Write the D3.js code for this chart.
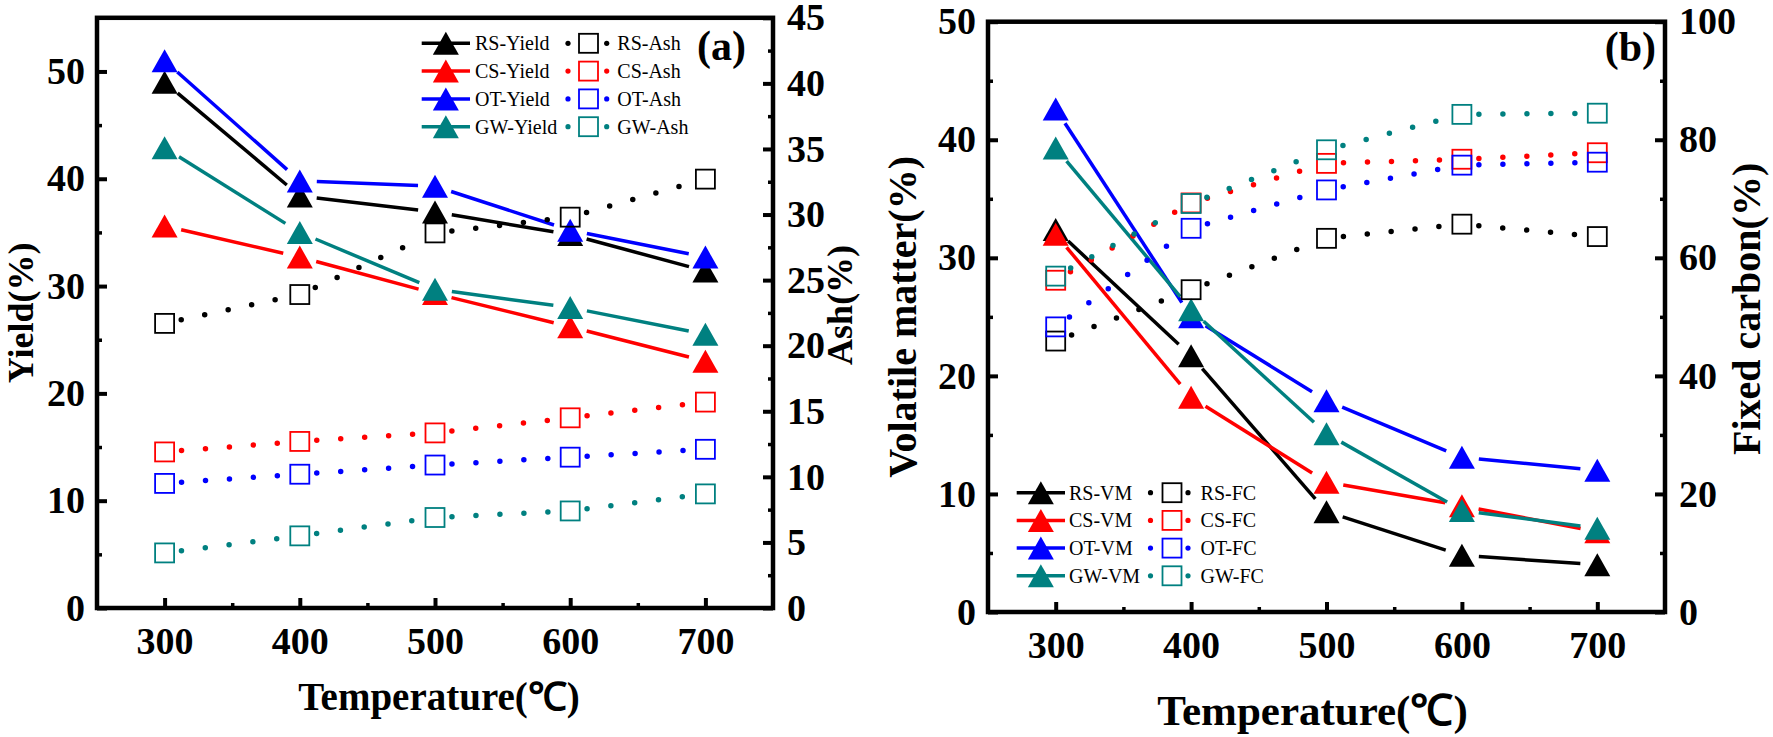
<!DOCTYPE html>
<html><head><meta charset="utf-8">
<script src="https://cdn.jsdelivr.net/npm/d3@7"></script>
<style>body{margin:0;background:#fff}svg{display:block}</style>
</head><body><svg id="c" width="1773" height="737"></svg>
<script>
// ---------- data ----------
const temps = [300, 400, 500, 600, 700];
const xTicks = [300, 400, 500, 600, 700];
const xMinor = [350, 450, 550, 650];
const seriesNames = ["RS", "CS", "OT", "GW"];

// panel (a)
const yieldRS = [49.0, 38.4, 36.9, 34.8, 31.4];
const yieldCS = [35.6, 32.7, 29.3, 26.2, 23.0];
const yieldOT = [51.0, 39.8, 39.3, 35.2, 32.7];
const yieldGW = [42.9, 35.0, 29.7, 28.0, 25.5];
const ashRS = [21.7, 23.9, 28.6, 29.8, 32.7];
const ashCS = [11.9, 12.7, 13.35, 14.5, 15.7];
const ashOT = [9.5, 10.2, 10.9, 11.5, 12.1];
const ashGW = [4.2, 5.5, 6.9, 7.4, 8.7];
const yieldTicks = [0, 10, 20, 30, 40, 50];
const yieldMinor = [5, 15, 25, 35, 45];
const ashTicks = [0, 5, 10, 15, 20, 25, 30, 35, 40, 45];
const ashMinor = [2.5, 7.5, 12.5, 17.5, 22.5, 27.5, 32.5, 37.5, 42.5];

// panel (b)
const vmRS = [32.4, 21.7, 8.5, 4.8, 4.0];
const vmCS = [32.0, 18.2, 11.0, 9.0, 6.8];
const vmOT = [42.6, 25.0, 17.9, 13.1, 12.0];
const vmGW = [39.3, 25.6, 15.1, 8.6, 7.1];
const fcRS = [45.9, 54.6, 63.3, 65.7, 63.6];
const fcCS = [56.2, 69.3, 76.0, 76.7, 77.8];
const fcOT = [48.3, 65.0, 71.5, 75.7, 76.2];
const fcGW = [56.9, 69.2, 78.3, 84.3, 84.5];
const vmTicks = [0, 10, 20, 30, 40, 50];
const vmMinor = [5, 15, 25, 35, 45];
const fcTicks = [0, 20, 40, 60, 80, 100];
const fcMinor = [10, 30, 50, 70, 90];

// ---------- styles ----------
const colors = ["#000000", "#ff0000", "#0000ff", "#008080"];
const FONT = "'Times New Roman','Liberation Serif',serif";
const svg = d3.select("#c");
svg.append("rect").attr("width", 1773).attr("height", 737).attr("fill", "#fff");

const triPath = "M0,-11.5L13,11.5L-13,11.5Z";

function gapSegments(pts, gap) {
  const segs = [];
  for (let i = 0; i < pts.length - 1; i++) {
    const [x1, y1] = pts[i], [x2, y2] = pts[i + 1];
    const dx = x2 - x1, dy = y2 - y1, L = Math.hypot(dx, dy);
    if (L <= 2 * gap) continue;
    const ux = dx / L, uy = dy / L;
    segs.push([[x1 + ux * gap, y1 + uy * gap], [x2 - ux * gap, y2 - uy * gap]]);
  }
  return segs;
}

function drawPanel(p) {
  const g = svg.append("g");
  const x = d3.scaleLinear().domain([250, 750]).range([p.left, p.right]);
  const yL = d3.scaleLinear().domain(p.yLDomain).range([p.bottom, p.top]);
  const yR = d3.scaleLinear().domain(p.yRDomain).range([p.bottom, p.top]);

  const styleAxis = (sel, w) => {
    sel.select(".domain").remove();
    sel.selectAll(".tick line").attr("stroke", "#000").attr("stroke-width", w);
    sel.selectAll("text").attr("font-family", FONT).attr("font-weight", "bold")
      .attr("font-size", 38).attr("fill", "#000");
  };
  // bottom
  g.append("g").attr("transform", `translate(0,${p.bottom})`)
    .call(d3.axisBottom(x).tickValues(xTicks).tickSize(-10).tickPadding(19).tickFormat(d3.format("d")))
    .call(s => styleAxis(s, 4));
  g.append("g").attr("transform", `translate(0,${p.bottom})`)
    .call(d3.axisBottom(x).tickValues(xMinor).tickSize(-5).tickFormat(""))
    .call(s => styleAxis(s, 3.5));
  // left
  g.append("g").attr("transform", `translate(${p.left},0)`)
    .call(d3.axisLeft(yL).tickValues(p.yLTicks).tickSize(-10).tickPadding(12).tickFormat(d3.format("d")))
    .call(s => styleAxis(s, 4));
  g.append("g").attr("transform", `translate(${p.left},0)`)
    .call(d3.axisLeft(yL).tickValues(p.yLMinor).tickSize(-5).tickFormat(""))
    .call(s => styleAxis(s, 3.5));
  // right
  g.append("g").attr("transform", `translate(${p.right},0)`)
    .call(d3.axisRight(yR).tickValues(p.yRTicks).tickSize(-10).tickPadding(14).tickFormat(d3.format("d")))
    .call(s => styleAxis(s, 4));
  g.append("g").attr("transform", `translate(${p.right},0)`)
    .call(d3.axisRight(yR).tickValues(p.yRMinor).tickSize(-5).tickFormat(""))
    .call(s => styleAxis(s, 3.5));
  // frame
  g.append("rect").attr("x", p.left).attr("y", p.top)
    .attr("width", p.right - p.left).attr("height", p.bottom - p.top)
    .attr("fill", "none").attr("stroke", "#000").attr("stroke-width", 4.5);

  // left-axis series (triangles, solid)
  p.leftSeries.forEach((vals, i) => {
    const pts = temps.map((t, j) => [x(t), yL(vals[j])]);
    gapSegments(pts, 17).forEach(s => {
      g.append("line").attr("x1", s[0][0]).attr("y1", s[0][1]).attr("x2", s[1][0]).attr("y2", s[1][1])
        .attr("stroke", colors[i]).attr("stroke-width", 3.5);
    });
    pts.forEach(pt => g.append("path").attr("d", triPath)
      .attr("transform", `translate(${pt[0]},${pt[1]})`).attr("fill", colors[i]));
  });
  // right-axis series (squares, dotted)
  p.rightSeries.forEach((vals, i) => {
    const pts = temps.map((t, j) => [x(t), yR(vals[j])]);
    gapSegments(pts, 17).forEach(s => {
      g.append("line").attr("x1", s[0][0]).attr("y1", s[0][1]).attr("x2", s[1][0]).attr("y2", s[1][1])
        .attr("stroke", colors[i]).attr("stroke-width", 5.5)
        .attr("stroke-linecap", "round").attr("stroke-dasharray", "0 24");
    });
    pts.forEach(pt => g.append("rect").attr("x", pt[0] - 9.5).attr("y", pt[1] - 9.5)
      .attr("width", 19).attr("height", 19).attr("fill", "none")
      .attr("stroke", colors[i]).attr("stroke-width", 1.8));
  });

  // legend
  const L = p.legend;
  seriesNames.forEach((nm, i) => {
    const yy = L.y0 + i * L.dy;
    g.append("line").attr("x1", L.lx1).attr("x2", L.lx2).attr("y1", yy).attr("y2", yy)
      .attr("stroke", colors[i]).attr("stroke-width", 3.5);
    g.append("path").attr("d", triPath).attr("transform", `translate(${(L.lx1 + L.lx2) / 2},${yy})`)
      .attr("fill", colors[i]);
    g.append("text").attr("x", L.tx1).attr("y", yy + 7).text(nm + "-" + p.leftName)
      .attr("font-family", FONT).attr("font-size", 20).attr("fill", "#000");
    [L.d1, L.d2].forEach(dx => g.append("circle").attr("cx", dx).attr("cy", yy).attr("r", 2.6)
      .attr("fill", colors[i]));
    g.append("rect").attr("x", L.sq - 9.5).attr("y", yy - 9.5).attr("width", 19).attr("height", 19)
      .attr("fill", "none").attr("stroke", colors[i]).attr("stroke-width", 1.8);
    g.append("text").attr("x", L.tx2).attr("y", yy + 7).text(nm + "-" + p.rightName)
      .attr("font-family", FONT).attr("font-size", 20).attr("fill", "#000");
  });

  // panel tag
  g.append("text").attr("x", p.tagX).attr("y", p.tagY).attr("text-anchor", "end").text(p.tag)
    .attr("font-family", FONT).attr("font-weight", "bold").attr("font-size", 42);

  // axis titles
  g.append("text").attr("x", (p.left + p.right) / 2 + p.xTitleDx).attr("y", p.xTitleY)
    .attr("text-anchor", "middle").text("Temperature(℃)")
    .attr("font-family", FONT).attr("font-weight", "bold").attr("font-size", p.xTitleSize);
  g.append("text").attr("transform", `translate(${p.yLTitleX},${(p.top + p.bottom) / 2}) rotate(-90)`)
    .attr("text-anchor", "middle").text(p.yLTitle)
    .attr("font-family", FONT).attr("font-weight", "bold").attr("font-size", p.yTitleSize);
  g.append("text").attr("transform", `translate(${p.yRTitleX},${(p.top + p.bottom) / 2 - 8}) rotate(-90)`)
    .attr("text-anchor", "middle").text(p.yRTitle)
    .attr("font-family", FONT).attr("font-weight", "bold").attr("font-size", p.yTitleSize);
}

drawPanel({
  left: 97, right: 773, top: 17.8, bottom: 608,
  yLDomain: [0, 55], yRDomain: [0, 45],
  yLTicks: yieldTicks, yLMinor: yieldMinor, yRTicks: ashTicks, yRMinor: ashMinor,
  leftSeries: [yieldRS, yieldCS, yieldOT, yieldGW],
  rightSeries: [ashRS, ashCS, ashOT, ashGW],
  leftName: "Yield", rightName: "Ash",
  legend: { y0: 43.3, dy: 27.8, lx1: 421.7, lx2: 470, tx1: 475, d1: 568, sq: 588.5, d2: 606.7, tx2: 617.3 },
  tag: "(a)", tagX: 746, tagY: 60,
  xTitleDx: 4, xTitleY: 710, xTitleSize: 39,
  yLTitle: "Yield(%)", yRTitle: "Ash(%)", yLTitleX: 33, yRTitleX: 852, yTitleSize: 36
});

drawPanel({
  left: 988, right: 1665, top: 21.7, bottom: 612,
  yLDomain: [0, 50], yRDomain: [0, 100],
  yLTicks: vmTicks, yLMinor: vmMinor, yRTicks: fcTicks, yRMinor: fcMinor,
  leftSeries: [vmRS, vmCS, vmOT, vmGW],
  rightSeries: [fcRS, fcCS, fcOT, fcGW],
  leftName: "VM", rightName: "FC",
  legend: { y0: 492.7, dy: 27.7, lx1: 1016.7, lx2: 1065, tx1: 1069, d1: 1150.5, sq: 1172, d2: 1188, tx2: 1200.6 },
  tag: "(b)", tagX: 1656, tagY: 61,
  xTitleDx: -14, xTitleY: 725, xTitleSize: 43,
  yLTitle: "Volatile matter(%)", yRTitle: "Fixed carbon(%)", yLTitleX: 916, yRTitleX: 1760, yTitleSize: 40
});
</script></body></html>
